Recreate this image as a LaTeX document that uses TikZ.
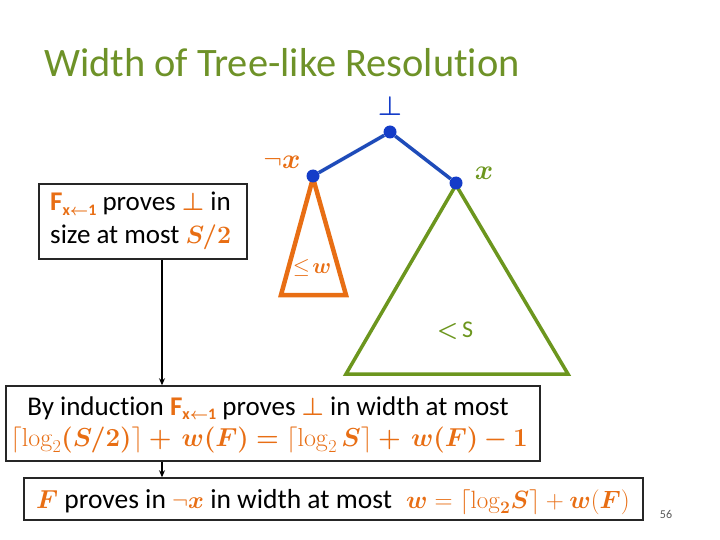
\RequirePackage{fix-cm}
\documentclass[tikz,border=0pt]{standalone}
\usepackage{amsmath,amssymb,bm}
\usepackage[no-math]{fontspec}
\setmainfont[Ligatures={NoCommon}]{Carlito}
\usetikzlibrary{arrows.meta}
\definecolor{ttlgreen}{RGB}{110,146,40}
\definecolor{trigreen}{RGB}{108,150,30}
\definecolor{myorange}{RGB}{232,110,20}
\definecolor{myblue}{RGB}{20,60,200}
\definecolor{lineblue}{RGB}{30,75,185}
\newcommand{\Fsub}{{\bfseries F}\raisebox{-0.35ex}{\fontsize{16}{16}\selectfont\bfseries x$\bm{\leftarrow}$1}}
\newcommand{\msz}[2]{{\fontsize{#1}{#1}\selectfont #2}}
\tikzset{
  dot/.style={circle,fill=myblue,inner sep=0pt,minimum size=13pt},
  edge/.style={draw=lineblue,line width=3.5pt},
  box/.style={draw=black!85,line width=1.5pt,fill=white,inner sep=0pt},
  arr/.style={-{Stealth[length=7pt,width=6pt]},line width=1.8pt,black},
}
\begin{document}
\begin{tikzpicture}[x=1pt,y=-1pt]
\useasboundingbox (0,0) rectangle (720,540);
% title
\node[anchor=base west,inner sep=0pt,text=ttlgreen,font=\fontsize{40.4}{44}\selectfont] (title) at (44,77) {Width of Tree-like Resolution};
% tree
\node[anchor=base,text=myblue,font=\fontsize{27}{27}\selectfont,inner sep=0pt] (bot) at (390,116) {$\bm{\bot}$};
\coordinate (ltop) at (313,178);
\coordinate (rtop) at (456,185);
\draw[myorange,line width=4.5pt,line join=miter] (ltop) -- (281,295) -- (346,295) -- cycle;
\draw[trigreen,line width=3.5pt,line join=miter] (rtop) -- (346,374) -- (568,374) -- cycle;
\node[dot] (r) at (390,132) {};
\node[dot] (l) at (313,176) {};
\node[dot] (rt) at (456,183) {};
\draw[edge] (r) -- (l);
\draw[edge] (r) -- (rt);
\node[text=myorange,font=\fontsize{28}{28}\selectfont,inner sep=0pt] (nx) at (282,162) {$\neg\bm{x}$};
\node[text=trigreen,font=\fontsize{28}{28}\selectfont,inner sep=0pt] (px) at (484,173) {$\bm{x}$};
\node[text=myorange,font=\fontsize{22}{22}\selectfont,inner sep=0pt] (lew) at (312,268) {$\le\!\bm{w}$};
\node[text=trigreen,font=\fontsize{24}{24}\selectfont,inner sep=0pt] (ls) at (455,331) {$\bm{<}$\,S};
% boxes
\node[box,minimum width=208pt,minimum height=75pt] (b1) at (143,221.5) {};
\node[anchor=north west,inner sep=0pt,align=left,font=\fontsize{27}{33}\selectfont] (t1) at (50,192)
  {\textcolor{myorange}{\Fsub} proves \textcolor{myorange}{\msz{25}{$\bm{\bot}$}} in\\ size at most \textcolor{myorange}{\msz{25}{$\bm{S/2}$}}};
\node[box,minimum width=534pt,minimum height=75pt] (b2) at (273,423.5) {};
\node[inner sep=0pt,align=center,font=\fontsize{27}{31}\selectfont] (t2) at (268,408)
  {By induction \textcolor{myorange}{\Fsub} proves \textcolor{myorange}{\msz{25}{$\bm{\bot}$}} in width at most};
\node[inner sep=0pt,font=\fontsize{26}{31}\selectfont] (t2b) at (269,440)
  {\textcolor{myorange}{$\lceil\log_2\bm{(S/2)}\rceil\bm{+}\,\bm{w(F)}\bm{=}\lceil\log_2\bm{S}\rceil\bm{+}\,\bm{w(F)}\bm{-1}$}};
\node[box,minimum width=619pt,minimum height=42pt] (b3) at (333.5,499) {};
\node[anchor=base west,inner sep=0pt,font=\fontsize{27.5}{28}\selectfont] (t3) at (36,508)
  {\textcolor{myorange}{\msz{26}{$\bm{F}$}} proves in \textcolor{myorange}{\msz{24}{$\neg\bm{x}$}} in width at most};
\node[anchor=base east,inner sep=0pt,font=\fontsize{25}{28}\selectfont] (t3b) at (630,508)
  {\textcolor{myorange}{$\bm{w}=\lceil\log_{\mathbf 2}\!\bm{S}\rceil+\bm{w}(\bm{F})$}};
% arrows
\draw[arr] ([xshift=19pt]b1.south) -- ([xshift=19pt]b1.south |- b2.north);
\draw[arr] ([xshift=162pt-273pt]b2.south) -- ([xshift=162pt-273pt]b2.south |- b3.north);
% page number
\node[text=black!65,font=\fontsize{12}{12}\selectfont,inner sep=0pt] (pg) at (666,514) {56};
\end{tikzpicture}
\end{document}
